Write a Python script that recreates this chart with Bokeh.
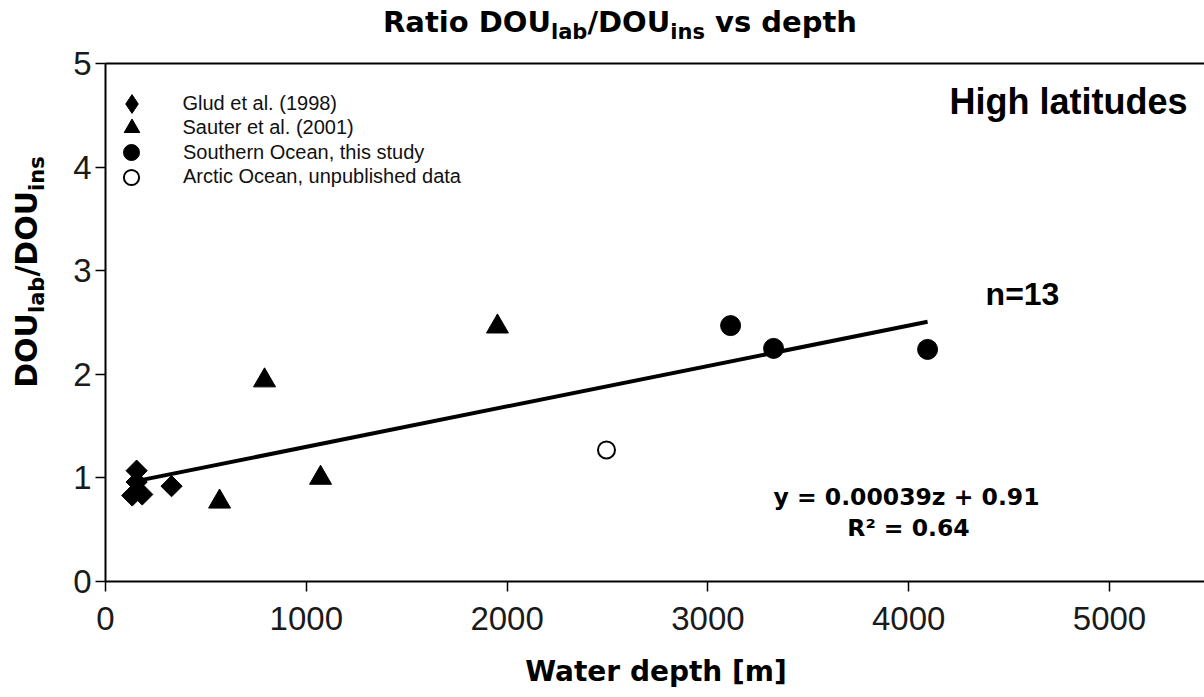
import numpy as np
from bokeh.plotting import figure
from bokeh.layouts import column, row
from bokeh.models import Range1d, LinearAxis, FixedTicker, Label, Legend, LegendItem, Div
from bokeh.embed import file_html
from bokeh.resources import INLINE

# ---- data -------------------------------------------------------------
glud_depth = [155, 155, 133, 183, 329]
glud_ratio = [1.07, 0.96, 0.83, 0.84, 0.92]

sauter_depth = [568, 792, 1071, 1952]
sauter_ratio = [0.77, 1.94, 1.00, 2.46]

southern_depth = [3113, 3327, 4094]
southern_ratio = [2.47, 2.25, 2.24]

arctic_depth = [2495]
arctic_ratio = [1.27]

fit_slope = 0.00039
fit_intercept = 0.91
r_squared = 0.64

x_ticks = [0, 1000, 2000, 3000, 4000, 5000]
y_ticks = [0, 1, 2, 3, 4, 5]

series_names = [
    "Glud et al. (1998)",
    "Sauter et al. (2001)",
    "Southern Ocean, this study",
    "Arctic Ocean, unpublished data",
]

BASE_FONT = "Liberation Sans"
WIDE_FONT = "DejaVu Sans"

# ---- page geometry ----------------------------------------------------
PAGE_W, PAGE_H = 1204, 697
TITLE_H = 45          # strip holding the chart title
YLAB_W = 55           # strip holding the rotated y-axis title
XLAB_H = 52           # strip holding the x-axis title
FIG_W = PAGE_W - YLAB_W
FIG_H = PAGE_H - TITLE_H - XLAB_H

FRAME_LEFT, FRAME_TOP, FRAME_BOTTOM = 105, 63, 581   # page pixels
FRAME_W = PAGE_W - FRAME_LEFT
FRAME_H = FRAME_BOTTOM - FRAME_TOP
x_end = FRAME_W / 200.8 * 1000.0

p = figure(width=FIG_W, height=FIG_H,
           x_range=Range1d(0, x_end), y_range=Range1d(0, 5),
           min_border_left=FRAME_LEFT - YLAB_W, min_border_right=0,
           min_border_top=FRAME_TOP - TITLE_H,
           min_border_bottom=FIG_H - (FRAME_BOTTOM - TITLE_H),
           output_backend="svg", toolbar_location=None, margin=0)
p.outline_line_color = None
p.background_fill_color = "white"
p.border_fill_color = "white"
p.xgrid.visible = False
p.ygrid.visible = False

for ax, ticks in ((p.xaxis[0], x_ticks), (p.yaxis[0], y_ticks)):
    ax.ticker = FixedTicker(ticks=ticks)
    ax.axis_line_color = "black"
    ax.axis_line_width = 2
    ax.major_tick_line_color = "black"
    ax.major_tick_line_width = 1.5
    ax.major_tick_in = 0
    ax.major_tick_out = 10
    ax.minor_tick_line_color = None
    ax.major_label_text_font = BASE_FONT
    ax.major_label_text_font_size = "33px"
    ax.major_label_text_color = "#1a1a1a"
p.xaxis.major_label_standoff = 15
p.yaxis.major_label_standoff = 4

# top edge of the plotting box
top_edge = LinearAxis(ticker=FixedTicker(ticks=[]), axis_line_color="black",
                      axis_line_width=2, major_tick_line_color=None,
                      minor_tick_line_color=None, major_tick_out=0,
                      major_label_standoff=0,
                      major_label_text_font_size="0px")
p.add_layout(top_edge, "above")

# ---- regression line --------------------------------------------------
all_depth = glud_depth + sauter_depth + southern_depth + arctic_depth
line_x = np.array([min(all_depth), max(all_depth)], dtype=float)
line_y = fit_slope * line_x + fit_intercept
p.line(line_x, line_y, line_color="black", line_width=4)

# ---- data markers -----------------------------------------------------
p.scatter(glud_depth, glud_ratio, marker="square", angle=np.pi / 4, size=15,
          fill_color="black", line_color="black")
# hidden twin of the Glud points, used only for its legend key
glud_key = p.scatter(glud_depth, glud_ratio, marker="diamond", size=20,
                     fill_color="black", line_color="black", visible=False)
sauter = p.scatter(sauter_depth, sauter_ratio, marker="triangle", size=22,
                   fill_color="black", line_color="black")
southern = p.scatter(southern_depth, southern_ratio, marker="circle", size=20,
                     fill_color="black", line_color="black")
arctic = p.scatter(arctic_depth, arctic_ratio, marker="circle", size=17,
                   fill_color="white", line_color="black", line_width=2)

# ---- legend: one single-row legend per series ------------------------
ROW0, ROW_STEP = 103, 24.5
KEY_X = 131           # page x of the key centres
TEXT_X = 183          # page x where the entry texts start
key_boxes = [47, 39, 40, 38]
for i, (name, rend, box) in enumerate(zip(series_names,
                                          [glud_key, sauter, southern, arctic],
                                          key_boxes)):
    centre = ROW0 + i * ROW_STEP
    vx = KEY_X - FRAME_LEFT - box / 2
    vy = FRAME_H - (centre - FRAME_TOP) - box / 2
    lg = Legend(items=[LegendItem(label=name, renderers=[rend])],
                location=(vx, vy), glyph_width=box, glyph_height=box,
                padding=0, spacing=0, margin=0,
                label_standoff=int(round(TEXT_X - FRAME_LEFT - vx - box)),
                label_text_font=BASE_FONT, label_text_font_size="20px",
                label_text_color="#111111", border_line_color=None,
                background_fill_alpha=0, inactive_fill_alpha=0)
    p.add_layout(lg)

# ---- in-plot annotations (frame-relative screen units) ---------------
def fx(px):
    return px - FRAME_LEFT


def fy(py):
    return FRAME_BOTTOM - py


def note(text, px, py, font, size, align):
    p.add_layout(Label(x=fx(px), y=fy(py), x_units="screen", y_units="screen",
                       text=text, text_font=font, text_font_style="bold",
                       text_font_size=f"{size}px", text_align=align,
                       text_baseline="middle", text_color="black"))


note("High latitudes", 1187, 101, BASE_FONT, 36, "right")
note(f"n={len(all_depth)}", 1022, 293, BASE_FONT, 32, "center")
note(f"y = {fit_slope:.5f}z + {fit_intercept:.2f}", 906, 496, WIDE_FONT, 23.5, "center")
note(f"R\u00b2 = {r_squared:.2f}", 908, 527, WIDE_FONT, 23.5, "center")

# ---- titles as HTML strips around the figure -------------------------
SUB = "font-size:21px;position:relative;top:7px"
FONT_CSS = ("font-family:'DejaVu Sans';font-weight:bold;color:black;"
            "white-space:nowrap;box-sizing:border-box;")


def centred_strip(text_html, centre_x, size, pad_top, height):
    shift = 2 * (centre_x - PAGE_W / 2)
    html = (f'<div style="width:{PAGE_W}px;padding-left:{shift:.0f}px;'
            f'padding-top:{pad_top}px;text-align:center;font-size:{size}px;'
            f'line-height:{size}px;{FONT_CSS}">{text_html}</div>')
    return Div(text=html, width=PAGE_W, height=height, margin=0)


title_div = centred_strip(
    f'Ratio DOU<span style="{SUB}">lab</span>/DOU<span style="{SUB}">ins</span>'
    f' vs depth', 620, 29, 8, TITLE_H)

ylab_html = (
    f'<div style="position:relative;width:{YLAB_W}px;height:{FIG_H}px">'
    f'<div style="position:absolute;left:28px;top:{272 - TITLE_H}px;'
    f'transform:translate(-50%,-50%) rotate(-90deg);font-size:30px;'
    f'line-height:30px;{FONT_CSS}">'
    f'DOU<span style="{SUB}">lab</span>/DOU<span style="{SUB}">ins</span>'
    f'</div></div>'
)
ylab_div = Div(text=ylab_html, width=YLAB_W, height=FIG_H, margin=0)

xlab_div = centred_strip('Water depth [m]', 656, 28, 13, XLAB_H)

page = column(title_div, row(ylab_div, p, spacing=0), xlab_div, spacing=0)

open("out.html", "w").write(file_html(page, INLINE))
